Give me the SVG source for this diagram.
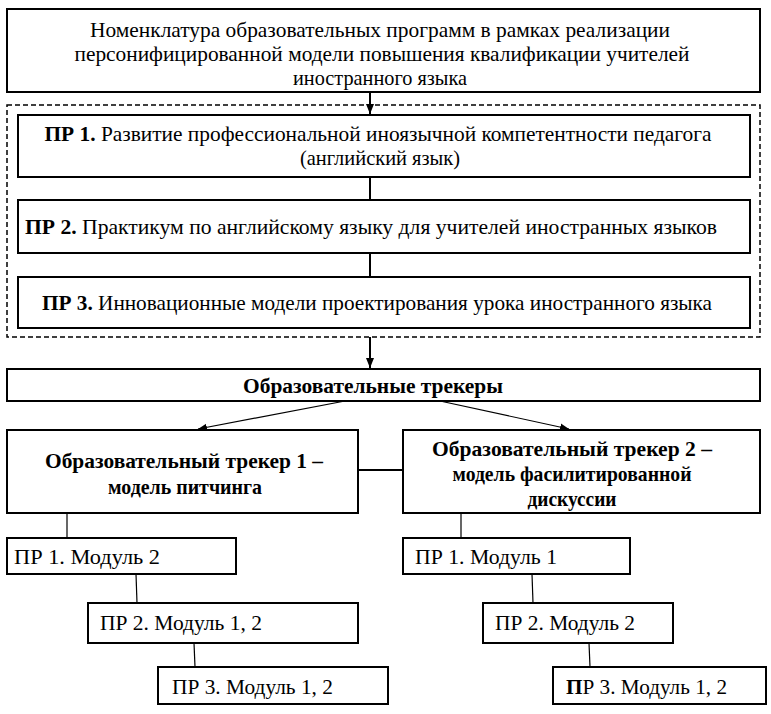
<svg xmlns="http://www.w3.org/2000/svg" width="771" height="714" viewBox="0 0 771 714" font-family="'Liberation Serif', 'DejaVu Serif', 'Times New Roman', serif">
<style>
text{font-family:'Liberation Serif','DejaVu Serif','Times New Roman',serif;font-size:22px;fill:#000}
.c{text-anchor:middle}
.b{font-weight:bold}
.box{fill:#fff;stroke:#000;stroke-width:2}
.dash{fill:none;stroke:#000;stroke-width:1.5;stroke-dasharray:5 3}
.ln{stroke:#000;stroke-width:2;fill:none}
.thin{stroke:#000;stroke-width:1.2;fill:none}
</style>
<defs>
<marker id="ah" viewBox="0 0 10 10" refX="10" refY="5" markerWidth="10" markerHeight="10" markerUnits="userSpaceOnUse" orient="auto">
<path d="M0,1 L10,5 L0,9 Z" fill="#000"/>
</marker>
<marker id="ahs" viewBox="0 0 10 10" refX="10" refY="5" markerWidth="9" markerHeight="9" markerUnits="userSpaceOnUse" orient="auto">
<path d="M0,1 L10,5 L0,9 Z" fill="#000"/>
</marker>
</defs>
<g id="connectors">
<line class="ln" x1="370" y1="92" x2="370" y2="114" marker-end="url(#ah)"/>
<line class="ln" x1="370" y1="177" x2="370" y2="200"/>
<line class="ln" x1="370" y1="253" x2="370" y2="277"/>
<line class="ln" x1="370" y1="337" x2="370" y2="368" marker-end="url(#ah)"/>
<line class="thin" x1="345" y1="401" x2="198" y2="429" marker-end="url(#ahs)"/>
<line class="thin" x1="440" y1="401" x2="569" y2="429" marker-end="url(#ahs)"/>
<line class="ln" x1="358" y1="470" x2="403" y2="470"/>
<line class="thin" x1="67" y1="513" x2="67" y2="538"/>
<line class="thin" x1="136" y1="574" x2="137" y2="603"/>
<line class="thin" x1="194" y1="643" x2="195" y2="667"/>
<line class="thin" x1="461" y1="513" x2="461" y2="538"/>
<line class="thin" x1="532" y1="574" x2="533" y2="603"/>
<line class="thin" x1="589" y1="643" x2="590" y2="667"/>
</g>
<g id="nomenclature">
<rect class="box" x="7" y="9" width="753" height="83"/>
<text class="c" x="380" y="37" textLength="580" lengthAdjust="spacingAndGlyphs">Номенклатура образовательных программ в рамках реализации</text>
<text class="c" x="382" y="61" textLength="615" lengthAdjust="spacingAndGlyphs">персонифицированной модели повышения квалификации учителей</text>
<text class="c" x="380" y="85" textLength="174" lengthAdjust="spacingAndGlyphs">иностранного языка</text>
</g>
<g id="programs">
<rect class="dash" x="7" y="105" width="753" height="232"/>
</g>
<g id="pr1">
<rect class="box" x="18" y="115" width="732" height="62"/>
<text class="c" x="378" y="141" textLength="667" lengthAdjust="spacingAndGlyphs"><tspan class="b">ПР 1.</tspan> Развитие профессиональной иноязычной компетентности педагога</text>
<text class="c" x="380" y="165" textLength="160" lengthAdjust="spacingAndGlyphs">(английский язык)</text>
</g>
<g id="pr2">
<rect class="box" x="18" y="200" width="732" height="53"/>
<text class="c" x="371" y="234" textLength="692" lengthAdjust="spacingAndGlyphs"><tspan class="b">ПР 2.</tspan> Практикум по английскому языку для учителей иностранных языков</text>
</g>
<g id="pr3">
<rect class="box" x="18" y="277" width="732" height="51"/>
<text class="c" x="377" y="310" textLength="670" lengthAdjust="spacingAndGlyphs"><tspan class="b">ПР 3.</tspan> Инновационные модели проектирования урока иностранного языка</text>
</g>
<g id="trackers">
<rect class="box" x="7" y="369" width="753" height="32"/>
<text class="c b" x="373" y="393" textLength="260" lengthAdjust="spacingAndGlyphs">Образовательные трекеры</text>
</g>
<g id="tracker1">
<rect class="box" x="7" y="430" width="351" height="83"/>
<text class="c b" x="184" y="468" textLength="278" lengthAdjust="spacingAndGlyphs">Образовательный трекер 1 –</text>
<text class="c b" x="185" y="494" textLength="154" lengthAdjust="spacingAndGlyphs">модель питчинга</text>
</g>
<g id="tracker2">
<rect class="box" x="403" y="430" width="357" height="83"/>
<text class="c b" x="572" y="456" textLength="280" lengthAdjust="spacingAndGlyphs">Образовательный трекер 2 –</text>
<text class="c b" x="572" y="481" textLength="239" lengthAdjust="spacingAndGlyphs">модель фасилитированной</text>
<text class="c b" x="572" y="506" textLength="89" lengthAdjust="spacingAndGlyphs">дискуссии</text>
</g>
<g id="t1-pr1">
<rect class="box" x="7" y="538" width="229" height="36"/>
<text x="14" y="564" textLength="146" lengthAdjust="spacingAndGlyphs">ПР 1. Модуль 2</text>
</g>
<g id="t1-pr2">
<rect class="box" x="88" y="603" width="270" height="40"/>
<text x="100" y="630" textLength="162" lengthAdjust="spacingAndGlyphs">ПР 2. Модуль 1, 2</text>
</g>
<g id="t1-pr3">
<rect class="box" x="158" y="667" width="230" height="37"/>
<text x="172" y="694" textLength="161" lengthAdjust="spacingAndGlyphs">ПР 3. Модуль 1, 2</text>
</g>
<g id="t2-pr1">
<rect class="box" x="403" y="538" width="227" height="36"/>
<text x="415" y="564" textLength="142" lengthAdjust="spacingAndGlyphs">ПР 1. Модуль 1</text>
</g>
<g id="t2-pr2">
<rect class="box" x="483" y="603" width="190" height="40"/>
<text x="495" y="630" textLength="140" lengthAdjust="spacingAndGlyphs">ПР 2. Модуль 2</text>
</g>
<g id="t2-pr3">
<rect class="box" x="553" y="667" width="213" height="37"/>
<text x="566" y="694" textLength="161" lengthAdjust="spacingAndGlyphs"><tspan class="b">П</tspan>Р 3. Модуль 1, 2</text>
</g>
</svg>
